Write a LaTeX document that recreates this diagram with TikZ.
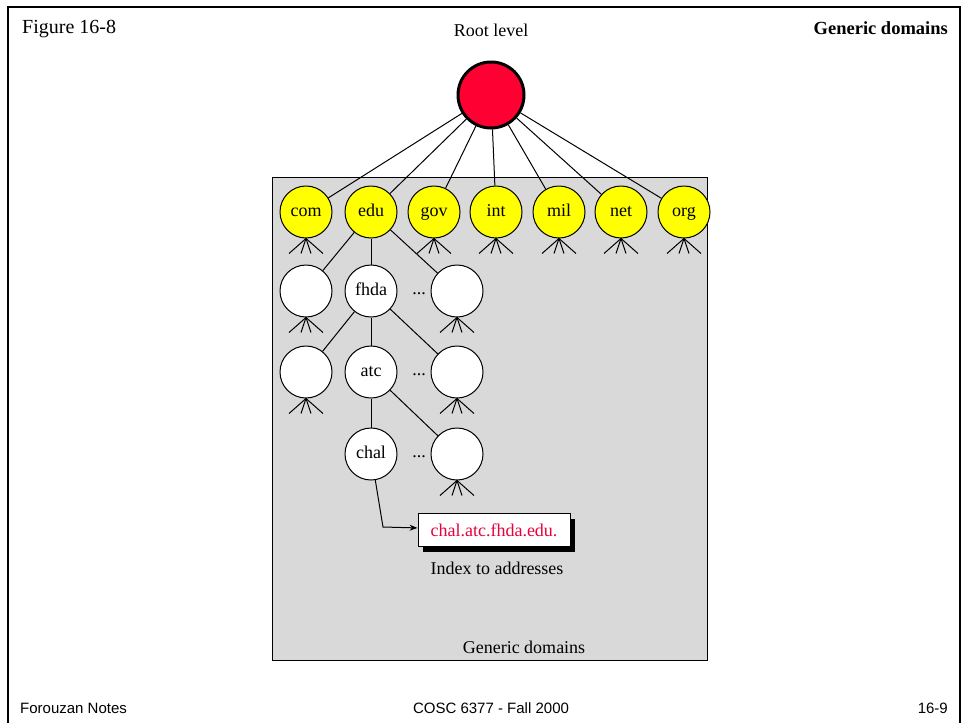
\documentclass[tikz,border=0pt]{standalone}
\usepackage{fontspec}
\setmainfont{Liberation Serif}
\setsansfont{Liberation Sans}
\usetikzlibrary{arrows.meta,shadows}
\definecolor{rootred}{RGB}{255,0,51}
\definecolor{tldyellow}{RGB}{255,255,0}
\definecolor{zonegray}{RGB}{217,217,217}
\definecolor{namered}{RGB}{232,0,58}
\tikzset{
  dom/.style={circle, draw, fill=white, line width=1pt, minimum size=52pt,
    inner sep=0pt, text height=11pt, text depth=3pt, font=\fontsize{18}{20}\selectfont},
  tld/.style={dom, fill=tldyellow},
  link/.style={line width=1pt},
  label/.style={font=\fontsize{18}{20}\selectfont, inner sep=0pt},
  foot/.style={font=\sffamily\fontsize{15}{17}\selectfont, inner sep=0pt}
}
\begin{document}
\begin{tikzpicture}[x=1pt, y=-1pt]
    \useasboundingbox (0,0) rectangle (966,723);
    % slide frame
    \draw[line width=2.5pt] (8,723) -- (8,7) -- (960,7) -- (960,723);
    \node[label, anchor=west, font=\fontsize{20}{22}\selectfont] (fig) at (22,29) {Figure 16-8};
    \node[label] (rootlbl) at (491,30) {Root level};
    \node[label, anchor=east, font=\bfseries\fontsize{18.5}{20}\selectfont] (title) at (948,28) {Generic domains};
    % generic zone
    \fill[zonegray] (272,177) rectangle (707,660);
    \draw[link] (272,177) rectangle (707,660);
    \node[circle, draw, fill=rootred, line width=3pt, minimum size=66pt] (root) at (491,95) {};
    % top level
    \foreach \n/\x in {com/306,edu/371,gov/434,int/496,mil/559,net/621,org/684} {
        \node[tld] (\n) at (\x,212) {\n};
        \draw[link] (root) -- (\n);
    }
    % edu subtree
    \node[dom] (edua) at (306,291) {};
    \node[dom] (fhda) at (371,291) {fhda};
    \node[dom] (edub) at (457,291) {};
    \node[dom] (fhdaa) at (306,372) {};
    \node[dom] (atc) at (371,372) {atc};
    \node[dom] (fhdab) at (457,372) {};
    \node[dom] (chal) at (371,454) {chal};
    \node[dom] (atcb) at (457,454) {};
    \node[label] (dots1) at (419,294) {...};
    \node[label] (dots2) at (419,375) {...};
    \node[label] (dots3) at (419,457) {...};
    \draw[link] (edu) -- (edua);
    \draw[link] (edu) -- (fhda);
    \draw[link] (edu) -- (edub);
    \draw[link] (fhda) -- (fhdaa);
    \draw[link] (fhda) -- (atc);
    \draw[link] (fhda) -- (fhdab);
    \draw[link] (atc) -- (chal);
    \draw[link] (atc) -- (atcb);
    % unexpanded subtrees
    \foreach \n in {com,gov,int,mil,net,org,edua,edub,fhdaa,fhdab,atcb} {
        \draw[link] (\n.south) -- ++(-17,15);
        \draw[link] (\n.south) -- ++(-5,15);
        \draw[link] (\n.south) -- ++(5,15);
        \draw[link] (\n.south) -- ++(17,15);
    }
    % resolver index
    \node[draw, fill=white, line width=1pt, minimum width=152pt, minimum height=33pt,
      font=\fontsize{18}{20}\selectfont, text=namered,
      drop shadow={shadow xshift=5pt, shadow yshift=-5pt, fill=black, opacity=1}] (addr) at (494,530) {chal.atc.fhda.edu.};
    \coordinate (bend) at (383,527);
    \draw[link, -{Stealth[length=8pt,width=6pt]}] (chal) -- (bend) -- (addr);
    \node[label] (idx) at (497,568) {Index to addresses};
    \node[label] (zone) at (524,647) {Generic domains};
    % footer
    \node[foot, anchor=west] (notes) at (20,708) {Forouzan Notes};
    \node[foot] (course) at (491,708) {COSC 6377 - Fall 2000};
    \node[foot, anchor=east] (page) at (948,708) {16-9};
\end{tikzpicture}
\end{document}
